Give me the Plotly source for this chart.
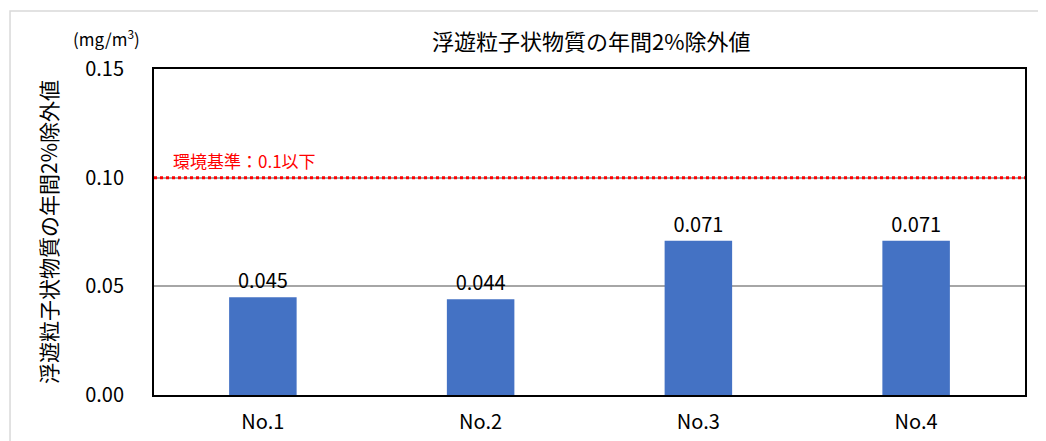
import plotly.graph_objects as go

# data
stations = ['No.1', 'No.2', 'No.3', 'No.4']
values = [0.045, 0.044, 0.071, 0.071]
standard = 0.10
y_ticks = [0.00, 0.05, 0.10, 0.15]

FONT = 'Noto Sans CJK JP'

fig = go.Figure()

fig.add_trace(go.Bar(
    x=stations, y=values,
    marker=dict(color='#4472c4', line=dict(width=0)),
    text=[f'{v:.3f}' for v in values],
    textposition='outside',
    textfont=dict(size=20, color='#000000', family=FONT),
    cliponaxis=False,
    showlegend=False,
))

# environmental standard line
fig.add_shape(type='line', xref='paper', yref='y', x0=0, x1=1, y0=standard, y1=standard,
              line=dict(color='#ff0000', width=3, dash='dot'))
fig.add_annotation(xref='paper', yref='y', x=0.02, y=standard, yshift=3,
                   text='環境基準：0.1以下', showarrow=False, xanchor='left', yanchor='bottom',
                   font=dict(size=17, color='#ff0000', family=FONT))

# outer chart border (light gray, left and top visible)
fig.add_shape(type='rect', xref='paper', yref='paper', x0=-0.1653, x1=1.05, y0=-0.2, y1=1.178,
              line=dict(color='#d9d9d9', width=1.5), layer='below')

fig.add_annotation(xref='paper', yref='paper', x=0.502, y=1.089,
                   text='浮遊粒子状物質の年間2%除外値', showarrow=False, yanchor='middle',
                   font=dict(size=22, color='#000000', family=FONT))
fig.add_annotation(xref='paper', yref='paper', x=-0.014, y=1.095,
                   text='(mg/m<sup>3</sup>)', showarrow=False, xanchor='right', yanchor='middle',
                   font=dict(size=17, color='#000000', family=FONT))

fig.update_layout(
    width=1046, height=441,
    margin=dict(l=146, r=29, t=61, b=54),
    paper_bgcolor='white', plot_bgcolor='white',
    bargap=0.69,
    font=dict(family=FONT, color='#000000'),
)
fig.update_xaxes(
    showline=True, linecolor='#000000', linewidth=2, mirror=True,
    ticks='', tickfont=dict(size=20, family=FONT), ticklabelstandoff=8,
)
fig.update_yaxes(
    range=[0, 0.15], tickvals=y_ticks, ticktext=[f'{t:.2f}' for t in y_ticks],
    showline=True, linecolor='#000000', linewidth=2, mirror=True,
    showgrid=True, gridcolor='#a6a6a6', gridwidth=1.5, zeroline=False,
    tickfont=dict(size=20, family=FONT), ticks='', ticklabelstandoff=24,
    title=dict(text='浮遊粒子状物質の年間2%除外値', font=dict(size=21, family=FONT), standoff=22),
)

fig.write_html('out.html')
